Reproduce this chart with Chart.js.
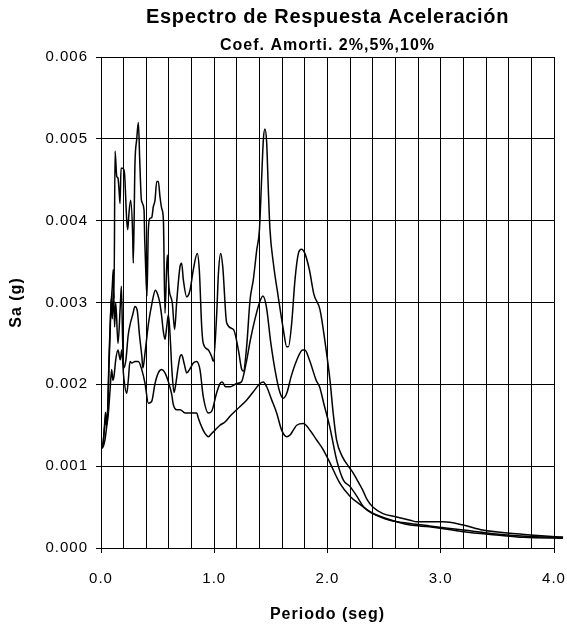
<!DOCTYPE html>
<html>
<head>
<meta charset="utf-8">
<title>Espectro de Respuesta Aceleración</title>
<script src="https://cdn.jsdelivr.net/npm/chart.js@4.4.1/dist/chart.umd.min.js"></script>
<style>
  html, body { margin: 0; padding: 0; background: #fff; }
  #spectrum { display: block; }
</style>
</head>
<body>
<canvas id="spectrum" width="567" height="626"></canvas>
<script>
// ─── Texts ──────────────────────────────────────────────────

const TITLE = 'Espectro de Respuesta Aceleración';
const SUBTITLE = 'Coef. Amorti. 2%,5%,10%';
const X_TITLE = 'Periodo (seg)';
const Y_TITLE = 'Sa (g)';

const xTickLabels = ['0.0', '1.0', '2.0', '3.0', '4.0'];
const yTickLabels = ['0.000', '0.001', '0.002', '0.003', '0.004', '0.005', '0.006'];

// ─── Data (period in s, Sa in g) ────────────────────────────

// 2% damping
const periods2 = [
  0.000, 0.010, 0.020, 0.030, 0.040, 0.050, 0.060, 0.070, 0.080, 0.090,
  0.100, 0.108, 0.115, 0.124, 0.139, 0.150, 0.159, 0.168, 0.177, 0.190,
  0.206, 0.227, 0.236, 0.247, 0.262, 0.280, 0.285, 0.300, 0.315, 0.330,
  0.342, 0.357, 0.380, 0.386, 0.395, 0.406, 0.418, 0.433, 0.448, 0.462,
  0.477, 0.492, 0.506, 0.521, 0.536, 0.551, 0.565, 0.585, 0.600, 0.630,
  0.650, 0.668, 0.698, 0.712, 0.727, 0.757, 0.786, 0.815, 0.850, 0.868,
  0.889, 0.903, 0.948, 0.977, 0.992, 1.022, 1.037, 1.057, 1.075, 1.110,
  1.170, 1.213, 1.243, 1.257, 1.286, 1.316, 1.345, 1.375, 1.399, 1.418,
  1.434, 1.448, 1.463, 1.477, 1.492, 1.522, 1.565, 1.610, 1.640, 1.655,
  1.684, 1.713, 1.743, 1.770, 1.800, 1.840, 1.880, 1.934, 1.980, 2.022,
  2.050, 2.080, 2.130, 2.190, 2.230, 2.270, 2.310, 2.350, 2.400, 2.490,
  2.610, 2.730, 2.790, 3.020, 3.200, 3.370, 3.610, 3.790, 4.080,
];
const sa2 = [
  0.00127, 0.00124, 0.00130, 0.00148, 0.00166, 0.00152, 0.00172, 0.00230, 0.00270, 0.00300,
  0.00320, 0.00340, 0.00305, 0.00485, 0.00454, 0.00452, 0.00438, 0.00421, 0.00464, 0.00464,
  0.00460, 0.00401, 0.00389, 0.00409, 0.00425, 0.00381, 0.00348, 0.00470, 0.00499, 0.00520,
  0.00474, 0.00425, 0.00413, 0.00377, 0.00340, 0.00308, 0.00389, 0.00403, 0.00404, 0.00417,
  0.00425, 0.00448, 0.00448, 0.00429, 0.00415, 0.00401, 0.00287, 0.00358, 0.00319, 0.00299,
  0.00267, 0.00300, 0.00344, 0.00348, 0.00328, 0.00307, 0.00315, 0.00340, 0.00360, 0.00340,
  0.00271, 0.00250, 0.00242, 0.00234, 0.00228, 0.00287, 0.00336, 0.00360, 0.00344, 0.00275,
  0.00267, 0.00242, 0.00218, 0.00216, 0.00246, 0.00303, 0.00328, 0.00364, 0.00389, 0.00450,
  0.00500, 0.00512, 0.00495, 0.00440, 0.00389, 0.00348, 0.00307, 0.00267, 0.00246, 0.00246,
  0.00275, 0.00328, 0.00360, 0.00365, 0.00360, 0.00340, 0.00310, 0.00291, 0.00250, 0.00205,
  0.00165, 0.00132, 0.00112, 0.00099, 0.00091, 0.00081, 0.00071, 0.00059, 0.00050, 0.00042,
  0.00038, 0.00034, 0.00032, 0.00032, 0.00028, 0.00022, 0.00018, 0.00016, 0.00013,
];

// 5% damping
const periods5 = [
  0.000, 0.010, 0.020, 0.030, 0.040, 0.050, 0.060, 0.070, 0.080, 0.090,
  0.100, 0.110, 0.120, 0.130, 0.150, 0.170, 0.180, 0.190, 0.200, 0.220,
  0.240, 0.260, 0.280, 0.300, 0.320, 0.340, 0.360, 0.370, 0.390, 0.420,
  0.450, 0.480, 0.500, 0.520, 0.536, 0.550, 0.565, 0.580, 0.595, 0.610,
  0.625, 0.645, 0.660, 0.680, 0.698, 0.712, 0.735, 0.757, 0.790, 0.815,
  0.845, 0.874, 0.903, 0.948, 0.977, 1.020, 1.050, 1.070, 1.100, 1.140,
  1.200, 1.240, 1.280, 1.320, 1.360, 1.400, 1.430, 1.460, 1.500, 1.540,
  1.580, 1.610, 1.640, 1.680, 1.730, 1.780, 1.800, 1.840, 1.900, 1.930,
  1.970, 2.020, 2.080, 2.140, 2.200, 2.260, 2.320, 2.400, 2.550, 2.730,
  2.900, 3.200, 3.490, 3.790, 4.080,
];
const sa5 = [
  0.00126, 0.00124, 0.00130, 0.00145, 0.00155, 0.00150, 0.00170, 0.00220, 0.00260, 0.00305,
  0.00280, 0.00320, 0.00270, 0.00300, 0.00250, 0.00295, 0.00320, 0.00260, 0.00220, 0.00230,
  0.00260, 0.00275, 0.00285, 0.00295, 0.00290, 0.00260, 0.00235, 0.00220, 0.00240, 0.00275,
  0.00299, 0.00315, 0.00310, 0.00299, 0.00283, 0.00265, 0.00255, 0.00270, 0.00285, 0.00260,
  0.00220, 0.00190, 0.00200, 0.00220, 0.00234, 0.00236, 0.00225, 0.00214, 0.00220, 0.00226,
  0.00228, 0.00218, 0.00185, 0.00165, 0.00167, 0.00189, 0.00201, 0.00203, 0.00197, 0.00197,
  0.00201, 0.00203, 0.00225, 0.00255, 0.00280, 0.00300, 0.00308, 0.00295, 0.00250, 0.00215,
  0.00190, 0.00183, 0.00189, 0.00210, 0.00230, 0.00242, 0.00242, 0.00230, 0.00205, 0.00197,
  0.00175, 0.00148, 0.00108, 0.00083, 0.00075, 0.00063, 0.00050, 0.00042, 0.00034, 0.00030,
  0.00027, 0.00022, 0.00017, 0.00014, 0.00013,
];

// 10% damping
const periods10 = [
  0.000, 0.010, 0.020, 0.035, 0.050, 0.064, 0.080, 0.094, 0.105, 0.115,
  0.130, 0.150, 0.170, 0.183, 0.200, 0.227, 0.241, 0.256, 0.271, 0.300,
  0.330, 0.360, 0.389, 0.418, 0.447, 0.477, 0.506, 0.536, 0.565, 0.595,
  0.624, 0.639, 0.668, 0.698, 0.742, 0.786, 0.845, 0.859, 0.889, 0.918,
  0.948, 0.977, 1.007, 1.050, 1.095, 1.139, 1.198, 1.287, 1.345, 1.404,
  1.433, 1.463, 1.507, 1.551, 1.595, 1.640, 1.669, 1.698, 1.728, 1.787,
  1.845, 1.904, 1.963, 2.022, 2.110, 2.200, 2.290, 2.380, 2.520, 2.730,
  2.900, 3.200, 3.490, 3.730, 4.080,
];
const sa10 = [
  0.00125, 0.00122, 0.00124, 0.00132, 0.00148, 0.00163, 0.00193, 0.00218, 0.00205, 0.00210,
  0.00230, 0.00242, 0.00230, 0.00242, 0.00210, 0.00189, 0.00205, 0.00228, 0.00226, 0.00228,
  0.00228, 0.00218, 0.00201, 0.00177, 0.00179, 0.00201, 0.00214, 0.00218, 0.00214, 0.00203,
  0.00188, 0.00175, 0.00169, 0.00169, 0.00165, 0.00165, 0.00165, 0.00159, 0.00148, 0.00140,
  0.00136, 0.00140, 0.00144, 0.00150, 0.00154, 0.00161, 0.00169, 0.00181, 0.00191, 0.00201,
  0.00203, 0.00197, 0.00181, 0.00165, 0.00144, 0.00136, 0.00138, 0.00144, 0.00150, 0.00152,
  0.00144, 0.00132, 0.00120, 0.00104, 0.00079, 0.00063, 0.00053, 0.00044, 0.00036, 0.00028,
  0.00026, 0.00020, 0.00016, 0.00013, 0.00012,
];

// ─── Helpers ────────────────────────────────────────────────

const FONT = '"Liberation Sans", Arial, Helvetica, sans-serif';

function toPoints(periods, values) {
  return periods.map((t, i) => ({ x: t, y: values[i] }));
}

function isWholePeriod(v) {
  return Math.round(v * 5) % 5 === 0;
}

const curveStyle = {
  borderColor: '#000',
  borderWidth: 1.5,
  pointRadius: 0,
  fill: false,
  cubicInterpolationMode: 'monotone',
  clip: { left: 0, top: 0, right: 14, bottom: 0 },
};

// Excel-style spaced lettering plus the two heading lines over the plot
const headings = {
  id: 'headings',
  beforeLayout(chart) { chart.ctx.letterSpacing = '1px'; },
  beforeDraw(chart) { chart.ctx.letterSpacing = '1px'; },
  afterDraw(chart) {
    const { ctx, chartArea } = chart;
    const cx = (chartArea.left + chartArea.right) / 2;
    ctx.save();
    ctx.fillStyle = '#000';
    ctx.textAlign = 'center';
    ctx.textBaseline = 'alphabetic';
    ctx.letterSpacing = '0.7px';
    ctx.font = `bold 20px ${FONT}`;
    ctx.fillText(TITLE, cx, 23);
    ctx.letterSpacing = '1px';
    ctx.font = `bold 16px ${FONT}`;
    ctx.fillText(SUBTITLE, cx, 50);
    ctx.restore();
  },
};

// ─── Chart ──────────────────────────────────────────────────

Chart.defaults.font.family = FONT;
Chart.defaults.color = '#000';

new Chart(document.getElementById('spectrum'), {
  type: 'line',
  data: {
    datasets: [
      { label: '2%', data: toPoints(periods2, sa2), ...curveStyle },
      { label: '5%', data: toPoints(periods5, sa5), ...curveStyle },
      { label: '10%', data: toPoints(periods10, sa10), ...curveStyle },
    ],
  },
  options: {
    responsive: false,
    animation: false,
    layout: { padding: { top: 57, right: 13, bottom: 0, left: 0 } },
    plugins: {
      legend: { display: false },
      tooltip: { enabled: false },
    },
    scales: {
      x: {
        type: 'linear',
        min: 0,
        max: 4,
        afterFit: s => { s.height = 78; s.paddingLeft = 0; s.paddingRight = 0; },
        border: { color: '#000', width: 1 },
        grid: {
          color: '#000',
          lineWidth: 1,
          tickLength: 5,
          tickColor: ctx => (ctx.tick && isWholePeriod(ctx.tick.value)) ? '#000' : 'rgba(0,0,0,0)',
        },
        ticks: {
          stepSize: 0.2,
          autoSkip: false,
          maxRotation: 0,
          padding: 17,
          color: '#000',
          font: { size: 15 },
          callback: v => isWholePeriod(v) ? xTickLabels[Math.round(v)] : '',
        },
        title: {
          display: true,
          text: X_TITLE,
          color: '#000',
          font: { size: 16, weight: 'bold' },
          padding: { top: 0, bottom: 2 },
        },
      },
      y: {
        min: 0,
        max: 0.006,
        afterFit: s => { s.width = 101; },
        border: { color: '#000', width: 1 },
        grid: { color: '#000', lineWidth: 1, tickLength: 5, tickColor: '#000' },
        ticks: {
          stepSize: 0.001,
          padding: 8,
          color: '#000',
          font: { size: 15 },
          callback: v => yTickLabels[Math.round(v / 0.001)],
        },
        title: {
          display: true,
          text: Y_TITLE,
          color: '#000',
          font: { size: 16, weight: 'bold' },
          padding: { top: 7, bottom: 0 },
        },
      },
    },
  },
  plugins: [headings],
});
</script>
</body>
</html>
